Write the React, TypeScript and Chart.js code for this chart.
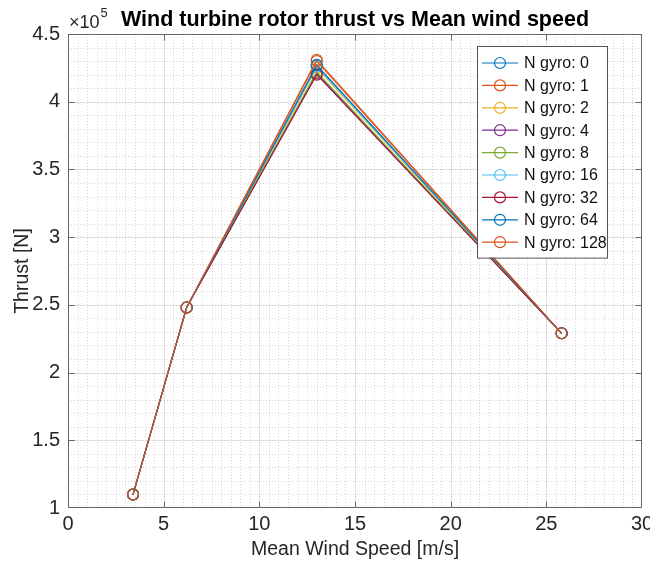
import React, { useEffect, useRef } from "react";
import { Chart, registerables } from "chart.js";

Chart.register(...registerables);

// ---- data ----
const windSpeed = [3.4, 6.2, 13.0, 25.8];
const gyroCounts = [0, 1, 2, 4, 8, 16, 32, 64, 128];
const thrustGyro0 = [110000, 248000, 427000, 229000];
const thrustGyro1 = [110000, 248000, 431000, 229000];
const thrustGyro2 = [110000, 248000, 425000, 229000];
const thrustGyro4 = [110000, 248000, 421000, 229000];
const thrustGyro8 = [110000, 248000, 422000, 229000];
const thrustGyro16 = [110000, 248000, 426000, 229000];
const thrustGyro32 = [110000, 248000, 420000, 229000];
const thrustGyro64 = [110000, 248000, 427000, 229000];
const thrustGyro128 = [110000, 248000, 430000, 229000];
const thrustSeries = [
  thrustGyro0, thrustGyro1, thrustGyro2, thrustGyro4, thrustGyro8,
  thrustGyro16, thrustGyro32, thrustGyro64, thrustGyro128,
];
const seriesColors = [
  "#0072BD", "#D95319", "#EDB120", "#7E2F8E", "#77AC30",
  "#4DBEEE", "#A2142F", "#0072BD", "#D95319",
];
const xMin = 0, xMax = 30, xStep = 5, xMinorStep = 0.5;
const yMin = 100000, yMax = 450000, yStep = 50000, yMinorStep = 10000;
const yExponent = 5;
const titleText = "Wind turbine rotor thrust vs Mean wind speed";
const xLabelText = "Mean Wind Speed [m/s]";
const yLabelText = "Thrust [N]";

const FONT = "'Liberation Sans', Arial, Helvetica, sans-serif";

const matlabPlugin = {
  id: "matlabLook",
  beforeDatasetsDraw(chart: any) {
    const { ctx, chartArea: a, scales } = chart;
    const xs = scales.x, ys = scales.y;
    ctx.save();
    ctx.beginPath();
    ctx.rect(a.left, a.top, a.right - a.left, a.bottom - a.top);
    ctx.clip();
    // minor grid (dotted)
    ctx.strokeStyle = "rgba(0,0,0,0.16)";
    ctx.lineWidth = 1;
    ctx.setLineDash([1, 2]);
    for (let v = xMin; v <= xMax + 1e-9; v += xMinorStep) {
      const px = Math.round(xs.getPixelForValue(v)) + 0.5;
      ctx.beginPath(); ctx.moveTo(px, a.top); ctx.lineTo(px, a.bottom); ctx.stroke();
    }
    for (let v = yMin; v <= yMax + 1e-6; v += yMinorStep) {
      const py = Math.round(ys.getPixelForValue(v)) + 0.5;
      ctx.beginPath(); ctx.moveTo(a.left, py); ctx.lineTo(a.right, py); ctx.stroke();
    }
    // major grid
    ctx.setLineDash([]);
    ctx.strokeStyle = "rgba(0,0,0,0.08)";
    for (let v = xMin; v <= xMax + 1e-9; v += xStep) {
      const px = Math.round(xs.getPixelForValue(v)) + 0.5;
      ctx.beginPath(); ctx.moveTo(px, a.top); ctx.lineTo(px, a.bottom); ctx.stroke();
    }
    for (let v = yMin; v <= yMax + 1e-6; v += yStep) {
      const py = Math.round(ys.getPixelForValue(v)) + 0.5;
      ctx.beginPath(); ctx.moveTo(a.left, py); ctx.lineTo(a.right, py); ctx.stroke();
    }
    ctx.restore();
  },
  afterDatasetsDraw(chart: any) {
    const { ctx, chartArea: a, scales } = chart;
    const xs = scales.x, ys = scales.y;
    ctx.save();
    // box
    ctx.strokeStyle = "#666666";
    ctx.lineWidth = 1;
    const L = Math.round(a.left) + 0.5, R = Math.round(a.right) - 0.5;
    const T = Math.round(a.top) + 0.5, B = Math.round(a.bottom) - 0.5;
    ctx.strokeRect(L, T, R - L, B - T);
    // inward ticks
    const tl = 6;
    for (let v = xMin + xStep; v < xMax; v += xStep) {
      const px = Math.round(xs.getPixelForValue(v)) + 0.5;
      ctx.beginPath(); ctx.moveTo(px, B); ctx.lineTo(px, B - tl); ctx.stroke();
      ctx.beginPath(); ctx.moveTo(px, T); ctx.lineTo(px, T + tl); ctx.stroke();
    }
    for (let v = yMin + yStep; v < yMax; v += yStep) {
      const py = Math.round(ys.getPixelForValue(v)) + 0.5;
      ctx.beginPath(); ctx.moveTo(L, py); ctx.lineTo(L + tl, py); ctx.stroke();
      ctx.beginPath(); ctx.moveTo(R, py); ctx.lineTo(R - tl, py); ctx.stroke();
    }
    // legend
    const ds = chart.data.datasets;
    const lx = 477, ly = 46, lw = 130, rowH = 22.4;
    const lh = rowH * ds.length + 10;
    ctx.fillStyle = "#ffffff";
    ctx.fillRect(lx, ly, lw, lh);
    ctx.strokeStyle = "#555555";
    ctx.strokeRect(lx + 0.5, ly + 0.5, lw, lh);
    ctx.font = `16px ${FONT}`;
    ctx.textBaseline = "middle";
    ctx.textAlign = "left";
    ds.forEach((d: any, i: number) => {
      const cy = ly + 17 + i * rowH;
      ctx.strokeStyle = d.borderColor;
      ctx.lineWidth = 1.2;
      ctx.beginPath(); ctx.moveTo(lx + 5, cy); ctx.lineTo(lx + 41, cy); ctx.stroke();
      ctx.beginPath(); ctx.arc(lx + 23, cy, 5.5, 0, Math.PI * 2); ctx.stroke();
      ctx.fillStyle = "#111111";
      ctx.fillText(d.label, lx + 47, cy + 1);
    });
    ctx.restore();
  },
  afterDraw(chart: any) {
    const { ctx, chartArea: a } = chart;
    ctx.save();
    const cx = (a.left + a.right) / 2;
    ctx.fillStyle = "#000000";
    ctx.textAlign = "center";
    ctx.textBaseline = "alphabetic";
    ctx.font = `bold 21.5px ${FONT}`;
    ctx.fillText(titleText, cx, 26);
    ctx.fillStyle = "#262626";
    ctx.font = `19.5px ${FONT}`;
    ctx.fillText(xLabelText, cx, 555);
    ctx.save();
    ctx.translate(28, (a.top + a.bottom) / 2);
    ctx.rotate(-Math.PI / 2);
    ctx.fillText(yLabelText, 0, 0);
    ctx.restore();
    // exponent
    ctx.textAlign = "left";
    ctx.font = `18px ${FONT}`;
    ctx.fillText("×10", a.left + 1, 28);
    const w = ctx.measureText("×10").width;
    ctx.font = `13px ${FONT}`;
    ctx.fillText(String(yExponent), a.left + 1 + w + 1, 17);
    ctx.restore();
  },
};

export default function App() {
  const ref = useRef<HTMLCanvasElement | null>(null);
  useEffect(() => {
    document.body.style.margin = "0";
    const datasets = gyroCounts.map((g, i) => ({
      label: `N gyro: ${g}`,
      data: windSpeed.map((x, j) => ({ x, y: thrustSeries[i][j] })),
      borderColor: seriesColors[i],
      backgroundColor: "rgba(0,0,0,0)",
      borderWidth: 1.1,
      pointRadius: 5.5,
      pointBorderWidth: 1.1,
      pointBackgroundColor: "rgba(0,0,0,0)",
      pointBorderColor: seriesColors[i],
      tension: 0,
      fill: false,
      order: gyroCounts.length - i,
    }));
    const chart = new Chart(ref.current as HTMLCanvasElement, {
      type: "line",
      data: { datasets },
      options: {
        animation: false,
        responsive: false,
        maintainAspectRatio: false,
        devicePixelRatio: 1,
        layout: { padding: { left: 0, right: 8, top: 34, bottom: 0 } },
        plugins: { legend: { display: false }, tooltip: { enabled: false }, title: { display: false } },
        scales: {
          x: {
            type: "linear",
            min: xMin,
            max: xMax,
            grid: { display: false, drawTicks: false },
            border: { display: false },
            ticks: {
              stepSize: xStep,
              color: "#262626",
              font: { family: FONT, size: 20 },
              padding: 4,
              maxRotation: 0,
              autoSkip: false,
            },
            afterFit: (s: any) => { s.height = 58; s.paddingLeft = 0; s.paddingRight = 0; },
          },
          y: {
            type: "linear",
            min: yMin,
            max: yMax,
            grid: { display: false, drawTicks: false },
            border: { display: false },
            ticks: {
              stepSize: yStep,
              color: "#262626",
              font: { family: FONT, size: 20 },
              padding: 8,
              callback: (v: any) => String(Number(v) / Math.pow(10, yExponent)),
            },
            afterFit: (s: any) => { s.width = 68; s.paddingTop = 0; s.paddingBottom = 0; },
          },
        },
      } as any,
      plugins: [matlabPlugin],
    });
    return () => chart.destroy();
  }, []);
  return (
    <div style={{ width: 650, height: 566, background: "#fff" }}>
      <canvas ref={ref} width={650} height={566} style={{ display: "block" }} />
    </div>
  );
}
